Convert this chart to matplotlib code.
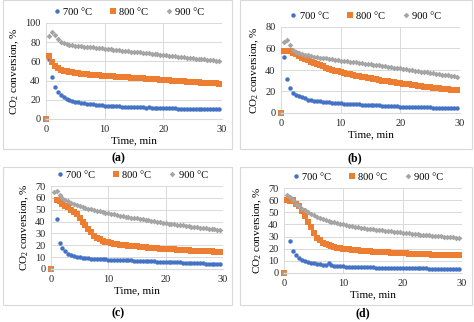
import numpy as np
import matplotlib
matplotlib.use("Agg")
import matplotlib.pyplot as plt
from matplotlib.patches import Rectangle

plt.rcParams['font.family'] = ['Liberation Serif', 'DejaVu Serif']
plt.rcParams['mathtext.fontset'] = 'custom'
plt.rcParams['mathtext.rm'] = 'Liberation Serif'
plt.rcParams['mathtext.it'] = 'Liberation Serif:italic'

nan = np.nan

# sampling time, min (one reading every 0.5 min)
time = np.arange(0, 30, 0.5)

temps = ["700 °C", "800 °C", "900 °C"]

# ---- panel (a)
a_700 = [0, 62, 44, 33, 28, 25, 23, 21, 20, 19, 18, 17.5, 17, 16.5, 16, 15.5, 15.2, 15, 14.6, 14.3,
         14.0, 13.8, 13.6, 13.5, 13.2, 13.1, 12.9, 12.8, 12.6, 12.6, 12.3, 12.4, 12.1, 12.0, 11.9, 12.0, 11.7, 11.6, 11.7, 11.4,
         11.3, 11.5, 11.2, 11.0, 11.1, 10.9, 10.8, 10.9, 10.6, 10.7, 10.5, 10.6, 10.4, 10.5, 10.3, 10.4, 10.2, 10.3, 10.2, 10.1]
a_800 = [0, 66, 59, 55, 53, 51.5, 50.5, 49.5, 49, 48.5, 48, 47.5, 47.2, 46.8, 46.5, 46.2, 46, 45.7, 45.4, 45.2,
         45, 44.8, 44.6, 44.4, 44.2, 44, 43.8, 43.5, 43.3, 43, 42.8, 42.6, 42.4, 42.2, 42, 41.8, 41.6, 41.4, 41.2, 41,
         40.7, 40.5, 40.3, 40.1, 39.9, 39.6, 39.4, 39.2, 39, 38.8, 38.6, 38.4, 38.2, 38, 37.8, 37.6, 37.4, 37.2, 37, 36.8]
a_900 = [0, 86, 91, 88, 83, 80, 79, 78, 77.5, 77, 76.5, 76, 75.8, 75.5, 75.3, 75, 74.7, 74.4, 74, 73.7,
         73.4, 73, 72.7, 72.3, 72, 71.7, 71.3, 71, 70.6, 70.3, 70, 69.6, 69.3, 69, 68.6, 68.3, 68, 67.6, 67.3, 67,
         66.6, 66.3, 66, 65.6, 65.3, 65, 64.6, 64.3, 64, 63.6, 63.3, 63, 62.6, 62.3, 62, 61.6, 61.3, 61, 60.6, 60.3]

# ---- panel (b)
b_700 = [0, 52, 32, 23, 19, 17, 15.5, 14.5, 13.5, 12.5, 12, 11.5, 11, 10.8, 10.5, 10.2, 10, 9.7, 9.5, 9.2,
         9, 8.8, 8.6, 8.5, 8.3, 8.1, 8, 7.8, 7.7, 7.5, 7.4, 7.3, 7.1, 7, 6.9, 6.8, 6.7, 6.6, 6.5, 6.4,
         6, 5.9, 5.8, 5.7, 5.6, 5.5, 5.5, 5.4, 5.3, 5.2, 5.2, 5.1, 5, 5, 4.9, 4.8, 4.8, 4.7, 4.6, 4.6]
b_800 = [0, 58, 58, 57.5, 56, 54.5, 53, 51.5, 50.2, 49, 47.8, 46.6, 45.5, 44.4, 43.3, 42.3, 41.3, 40.4, 39.5, 38.7,
         38, 37.3, 36.6, 36, 35.4, 34.8, 34.2, 33.7, 33.2, 32.7, 32.2, 31.7, 31.2, 30.7, 30.2, 29.8, 29.4, 29, 28.6, 28.2,
         27.8, 27.4, 27, 26.6, 26.2, 25.8, 25.4, 25, 24.6, 24.3, 24, 23.6, 23.3, 23, 22.6, 22.3, 22, 21.7, 21.4, 21.1]
b_900 = [0, 66, 68, 63, 59, 57, 55.5, 54.5, 54, 53.5, 53, 52.5, 52, 51.6, 51.2, 50.8, 50.4, 50, 49.6, 49.2,
         48.8, 48.4, 48, 47.6, 47.3, 47, 46.6, 46.3, 46, 45.6, 45.3, 45, 44.6, 44.2, 43.8, 43.4, 43, 42.6, 42.2, 41.8,
         41.4, 41, 40.6, 40.2, 39.8, 39.4, 39, 38.6, 38.2, 37.8, 37.4, 37, 36.6, 36.2, 35.8, 35.4, 35, 34.6, 34.2, 33.8]

# ---- panel (c)
c_700 = [0, nan, 42, 22, 18, 15, 13, 12, 11, 10.5, 10, 9.5, 9.2, 9, 8.8, 8.6, 8.5, 8.4, 8.3, 8.2,
         8, 7.9, 7.8, 7.7, 7.6, 7.5, 7.4, 7.3, 7.2, 7.1, 7, 6.9, 6.8, 6.7, 6.6, 6.5, 6.4, 6.3, 6.2, 6.1,
         6, 5.9, 5.8, 5.7, 5.6, 5.5, 5.4, 5.3, 5.2, 5.1, 5, 4.9, 4.8, 4.7, 4.6, 4.5, 4.5, 4.4, 4.4, 4.3]
c_800 = [0, nan, 58, 57, 55, 53.5, 52, 50, 48, 46, 43, 40, 37, 34, 31, 28, 26, 25, 24, 23,
         22.5, 22, 21.5, 21, 20.6, 20.3, 20, 19.7, 19.5, 19.2, 19, 18.7, 18.5, 18.3, 18, 17.8, 17.6, 17.4, 17.2, 17,
         16.9, 16.8, 16.6, 16.5, 16.3, 16.2, 16, 15.9, 15.8, 15.6, 15.5, 15.4, 15.3, 15.1, 15, 14.9, 14.8, 14.7, 14.6, 14.5]
c_900 = [0, 65, 66, 62, 60, 58.5, 57, 56, 55, 54, 53.2, 52.4, 51.7, 51, 50.3, 49.7, 49.1, 48.5, 48, 47.5,
         47, 46.5, 46, 45.5, 45, 44.6, 44.2, 43.8, 43.4, 43, 42.6, 42.2, 41.8, 41.4, 41, 40.6, 40.2, 39.8, 39.4, 39,
         38.6, 38.2, 37.9, 37.6, 37.3, 37, 36.7, 36.4, 36.1, 35.8, 35.5, 35.2, 34.9, 34.6, 34.3, 34, 33.7, 33.4, 33.1, 32.8]

# ---- panel (d)
d_700 = [0, 61, 26, 18, 15, 12.5, 11, 10, 9, 8.5, 8, 7.5, 7.2, 7, 7, 8, 6.5, 6, 5.8, 5.6,
         5.4, 5.3, 5.2, 5.1, 5, 4.9, 4.8, 4.8, 4.7, 4.6, 4.6, 4.5, 4.5, 4.4, 4.4, 4.3, 4.3, 4.2, 4.2, 4.1,
         4.1, 4, 4, 4, 3.9, 3.9, 3.8, 3.8, 3.8, 3.7, 3.7, 3.6, 3.6, 3.6, 3.5, 3.5, 3.5, 3.4, 3.4, 3.4]
d_800 = [0, 60, 59, 60, 57, 55, 51, 47, 42, 38, 33, 29, 27, 25, 24, 23, 22, 21.5, 21, 20.5,
         20, 19.7, 19.4, 19.1, 18.9, 18.7, 18.5, 18.3, 18.1, 17.9, 17.7, 17.5, 17.4, 17.2, 17.1, 16.9, 16.8, 16.6, 16.5, 16.4,
         16.2, 16.1, 16, 15.9, 15.8, 15.7, 15.6, 15.5, 15.4, 15.3, 15.2, 15.1, 15, 15, 14.9, 14.8, 14.8, 14.7, 14.6, 14.6]
d_900 = [0, 64, 63, 60, 57, 55, 53, 51.5, 50, 48.8, 47.6, 46.5, 45.5, 44.6, 43.8, 43, 42.3, 41.7, 41.1, 40.5,
         40, 39.5, 39, 38.6, 38.2, 37.8, 37.4, 37, 36.6, 36.3, 36, 35.7, 35.4, 35.1, 34.8, 34.5, 34.2, 34, 33.7, 33.4,
         33.1, 32.9, 32.6, 32.4, 32.1, 31.9, 31.6, 31.4, 31.2, 30.9, 30.7, 30.5, 30.3, 30.1, 29.9, 29.7, 29.5, 29.3, 29.1, 28.9]

colors = ["#4472C4", "#ED7D31", "#A5A5A5"]
markers = ["o", "s", "D"]
msizes = [3.2, 3.7, 2.9]

W, H = 474, 322
fig = plt.figure(figsize=(W / 100, H / 100), dpi=100)


def px_rect(x0, y0, x1, y1):
    # pixel box (top-left origin) -> figure fraction [l, b, w, h]
    return [x0 / W, 1 - y1 / H, (x1 - x0) / W, (y1 - y0) / H]


panels = [
    ("(a)", [a_700, a_800, a_900], 100, 20, (46, 23, 222, 119), (3, 0, 232, 149), (118, 158)),
    ("(b)", [b_700, b_800, b_900], 80, 20, (281, 27, 460, 113), (240, 0, 472, 149), (355, 158)),
    ("(c)", [c_700, c_800, c_900], 70, 10, (51, 186, 223, 269), (3, 167, 232, 305), (118, 313)),
    ("(d)", [d_700, d_800, d_900], 70, 10, (284, 188, 462, 273), (240, 167, 472, 305), (363, 313)),
]

for tag, series, ymax, ystep, ax_px, box_px, lab_px in panels:
    bx0, by0, bx1, by1 = box_px
    fig.patches.append(Rectangle((bx0 / W, 1 - by1 / H), (bx1 - bx0) / W, (by1 - by0) / H,
                                 transform=fig.transFigure, fill=False,
                                 edgecolor="#D9D9D9", linewidth=0.8))
    ax = fig.add_axes(px_rect(*ax_px))
    for vals, lab, c, m, ms in zip(series, temps, colors, markers, msizes):
        ax.plot(time, vals, linestyle="none", marker=m, markersize=ms, color=c,
                markeredgewidth=0, label=lab, clip_on=False)
    ax.set_xlim(0, 30)
    ax.set_ylim(0, ymax)
    ax.set_xticks([0, 10, 20, 30])
    ax.set_yticks(np.arange(0, ymax + 1, ystep))
    ax.grid(True, color="#D9D9D9", linewidth=0.7)
    ax.set_axisbelow(True)
    for s in ["top", "right", "left"]:
        ax.spines[s].set_visible(False)
    ax.spines["bottom"].set_color("#D9D9D9")
    ax.tick_params(length=0, labelsize=7.5, pad=4, colors="#262626")
    ax.set_xlabel("Time, min", fontsize=8, labelpad=2)
    ax.set_ylabel("CO$_2$ conversion, %", fontsize=8, labelpad=3)
    ax.legend(loc="lower center", bbox_to_anchor=(0.47, 1.0), ncol=3, frameon=False,
              fontsize=7.5, handlelength=0.8, handletextpad=0.2, columnspacing=1.6,
              borderaxespad=0.2, markerscale=1.0)
    fig.text(lab_px[0] / W, 1 - lab_px[1] / H, tag, ha="center", va="center",
             fontsize=8.5, fontweight="bold")

fig.savefig("out.png", dpi=100)
